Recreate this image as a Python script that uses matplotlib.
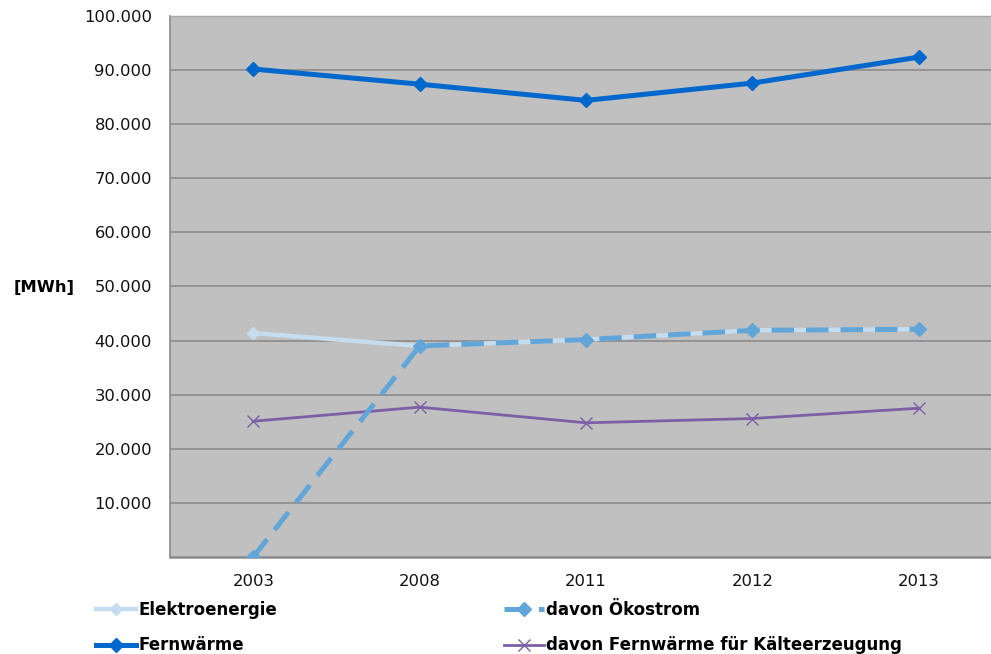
import matplotlib
matplotlib.use("Agg")
import matplotlib.pyplot as plt
from matplotlib.ticker import FuncFormatter

years = ["2003", "2008", "2011", "2012", "2013"]
elektroenergie = [41400, 39000, 40200, 41900, 42100]
oekostrom = [0, 39000, 40200, 41900, 42100]
fernwaerme = [90200, 87400, 84400, 87600, 92400]
kaelte = [25100, 27700, 24800, 25600, 27500]

plt.rcParams['font.family'] = ['DejaVu Sans']
plt.rcParams['font.sans-serif'] = ['DejaVu Sans']

W, H = 991, 654
fig = plt.figure(figsize=(W / 100, H / 100), dpi=100)
ax = fig.add_axes([170 / W, 1 - 557 / H, (1002 - 170) / W, (557 - 16) / H])
ax.set_facecolor('#c0c0c0')

x = list(range(len(years)))
l1, = ax.plot(x, elektroenergie, color='#c6ddef', lw=3.2, marker='D', ms=6,
              label='Elektroenergie', zorder=3)
l2, = ax.plot(x, oekostrom, color='#62a6d9', lw=3.6, ls=(0, (4.5, 2.4)), marker='D', ms=7,
              label='davon Ökostrom', zorder=4)
l3, = ax.plot(x, fernwaerme, color='#0068cc', lw=3.6, marker='D', ms=7,
              label='Fernwärme', zorder=4)
l4, = ax.plot(x, kaelte, color='#7d5fa6', lw=2.0, marker='x', ms=8, mew=1.0,
              label='davon Fernwärme für Kälteerzeugung', zorder=3)

ax.set_xlim(-0.5, len(years) - 0.5)
ax.set_ylim(0, 100000)
ax.set_xticks(x)
ax.set_xticklabels(years)
yt = list(range(10000, 100001, 10000))
ax.set_yticks(yt)
ax.yaxis.set_major_formatter(FuncFormatter(lambda v, p: f"{int(v):,}".replace(",", ".")))
ax.tick_params(axis='both', length=0, labelsize=11.8, colors='#111111')
ax.tick_params(axis='y', pad=13)
ax.tick_params(axis='x', pad=12)
ax.grid(axis='y', color='#8c8c8c', lw=1.2)
ax.set_axisbelow(True)
ax.spines['right'].set_visible(False)
for s in ['left', 'bottom']:
    ax.spines[s].set_color('#8a8a8a')
ax.spines['left'].set_linewidth(1.2)
ax.spines['bottom'].set_linewidth(1.8)
ax.spines['top'].set_color('#a8a8a8')
ax.spines['top'].set_linewidth(1.0)

fig.text(14 / W, 1 - 287 / H, '[MWh]', fontsize=11.8, fontweight='bold', va='center', ha='left',
         family='DejaVu Sans')

leg_kw = dict(frameon=False, prop={'weight': 'bold', 'size': 12, 'family': 'DejaVu Sans'},
              handlelength=2.4, handletextpad=0.15, labelspacing=1.05, borderaxespad=0, borderpad=0)
lg1 = fig.legend([l1, l3], ['Elektroenergie', 'Fernwärme'], loc='upper left',
                 bbox_to_anchor=(96 / W, 1 - 601 / H), **leg_kw)
lg2 = fig.legend([l2, l4], ['davon Ökostrom', 'davon Fernwärme für Kälteerzeugung'],
                 loc='upper left', bbox_to_anchor=(504 / W, 1 - 601 / H), **leg_kw)

fig.savefig('out.png', dpi=100)
